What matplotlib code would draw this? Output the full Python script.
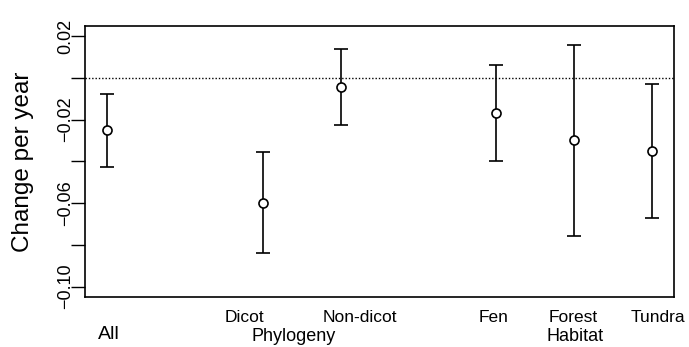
import numpy as np
import matplotlib
matplotlib.use("Agg")
import matplotlib.pyplot as plt
import matplotlib.transforms as mtransforms

plt.rcParams['font.family'] = ['Liberation Sans', 'DejaVu Sans']

# data
groups = ['All', 'Dicot', 'Non-dicot', 'Fen', 'Forest', 'Tundra']
xpos = [1, 3, 4, 6, 7, 8]
est = [-0.0251, -0.0599, -0.0045, -0.0168, -0.0299, -0.0349]
lower = [-0.0426, -0.0841, -0.0227, -0.0399, -0.0756, -0.0671]
upper = [-0.0078, -0.0357, 0.0138, 0.0059, 0.0159, -0.0029]
yticks = [0.02, 0.0, -0.02, -0.04, -0.06, -0.08, -0.10]
ytick_labels = ['0.02', '', '\u22120.02', '', '\u22120.06', '', '\u22120.10']

est = np.array(est)
err = np.vstack([est - np.array(lower), np.array(upper) - est])

fig = plt.figure(figsize=(6.89, 3.47), dpi=100)
ax = fig.add_axes([0.124, 0.145, 0.854, 0.780])

ax.axhline(0, color='black', lw=1.0, ls=(0, (1, 1.4)))
ax.errorbar(xpos, est, yerr=err, fmt='o', color='black', ecolor='black',
            elinewidth=1.2, capsize=4.7, capthick=1.2,
            mfc='white', mec='black', mew=1.2, ms=6.5)

ax.set_xlim(0.72, 8.28)
ax.set_ylim(-0.1048, 0.0248)
ax.set_xticks([])
ax.set_yticks(yticks)
ax.set_yticklabels(ytick_labels)
ax.tick_params(axis='y', length=10, width=1.0, pad=-2, labelsize=13,
               labelrotation=90)
for lab in ax.get_yticklabels():
    lab.set_va('center')
for sp in ax.spines.values():
    sp.set_linewidth(1.2)

trans = mtransforms.blended_transform_factory(ax.transData, fig.transFigure)
# category labels
ax.text(1.02, 0.023, 'All', transform=trans, ha='center', va='baseline', fontsize=14)
label_x = [2.76, 4.24, 5.97, 6.99, 8.08]
for name, lx in zip(groups[1:], label_x):
    ax.text(lx, 0.072, name, transform=trans, ha='center', va='baseline', fontsize=12.5)
ax.text(3.39, 0.016, 'Phylogeny', transform=trans, ha='center', va='baseline', fontsize=13)
ax.text(7.01, 0.016, 'Habitat', transform=trans, ha='center', va='baseline', fontsize=13)

fig.text(0.034, 0.535, 'Change per year', rotation=90, ha='center', va='center',
         fontsize=17.5)

fig.savefig('out.png', dpi=100)
